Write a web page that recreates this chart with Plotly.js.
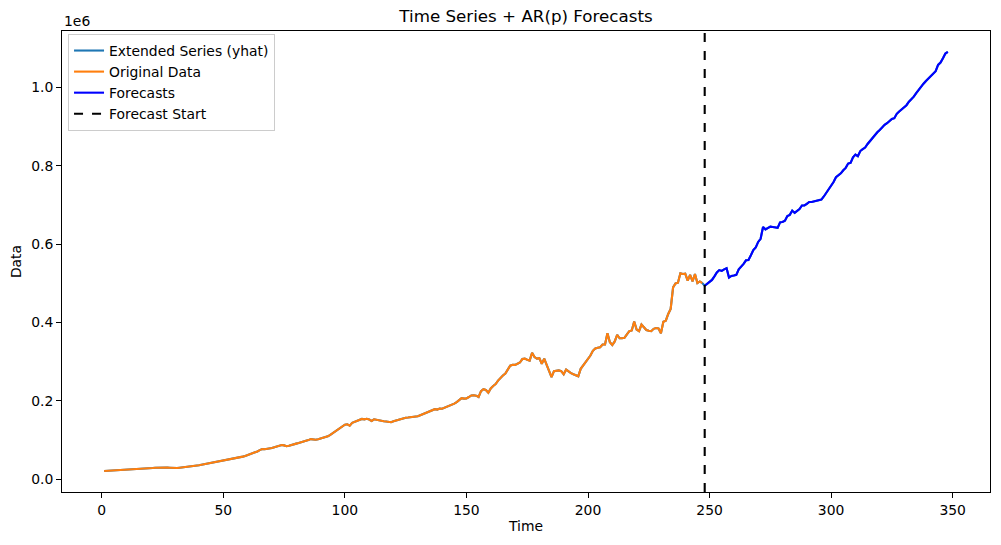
<!DOCTYPE html>
<html>
<head>
<meta charset="utf-8">
<script src="https://cdn.plot.ly/plotly-3.0.1.min.js"></script>
<style>html,body{margin:0;padding:0;background:#fff;}#chart{width:1001px;height:545px;}</style>
</head>
<body>
<div id="chart"></div>
<script>
// Original data (t = 1..247), values in thousands
const originalK = [
21,21.3,21.5,21.8,22,22.3,22.6,23,23.5,24,
24.5,24.8,25.2,25.5,26,26.3,26.7,27.2,27.6,28,
28.6,29.3,29.8,30.3,30.8,30.5,30,29.6,29,28.8,
28.7,29.5,30.2,30.5,31,31.5,32.3,33,34.5,36,
37.3,38.5,39.5,40.5,41.8,42.5,43.5,44.5,45.5,46.8,
48,49.2,50.5,52,53.2,54.8,56.2,57.8,59.5,61.5,
63.5,66,68.5,71,74.5,77,76.5,77.5,78,80,
82,84,86,87.5,86.5,84.5,85.5,88,90,91,
92.5,94,95.5,97.5,100,102.5,101.5,101,102,103.5,
105,106.5,109.5,113.5,118,122.5,127,131.5,135,139.5,
140.5,137,144,146.5,148,151,154,153,154.5,152.5,
149,153,151.5,150,149.5,148,147.5,146.5,145.5,148,
150,151,153,155,157,157.5,158,159.5,159,161,
163.5,166,168,171,174,176.5,179,178,180.5,180,
182.5,185,186.5,189.5,193,197,203,207,206,206.5,
210,214,214.5,213.5,210,225,230,228,221,232,
238,243,252,260,265,270,280,290,292.5,292,
295,298,307,308,305,303,323,312,308,309,
295,308,292,278,261,276,277,278,276,268,
280,275,271,268,265,263,282,290,298,307,
316,328,334,336,337,344,344,373,350,343,
352,369,360,360,361,370,378,380,403,382,
378,395,388,381,379,378,384,386,385,373,
402,405,422,435,490,500,502,526,524,525,
507,522,505,524,501,505,501
];
// Forecasts (t = 248..348), values in thousands
const forecastK = [
494,499,504,509,518,528,534,532,536,539,
515,519,520,522,536,542,550,559,560,572,
585,592,606,614,644,638,641,645,644,643,
642,656,657,660,672,675,686,680,684,690,
699,699,703,708,708,709,711,712,714,722,
731,742,750,759,771,775,781,789,795,806,
808,822,829,825,838,843,847,856,864,872,
880,886,892,899,905,909,915,920,922,933,
939,945,950,955,964,970,977,986,995,1003,
1010,1017,1023,1030,1036,1042,1058,1064,1075,1087,
1091
];
const startTime = 1;
const forecastStart = 248;
const yTickVals = [0, 200000, 400000, 600000, 800000, 1000000];
const yTickText = ["0.0", "0.2", "0.4", "0.6", "0.8", "1.0"];
const xTickVals = [0, 50, 100, 150, 200, 250, 300, 350];

const original = originalK.map(v => v * 1000);
const forecasts = forecastK.map(v => v * 1000);
const extended = original.concat(forecasts);
const tOrig = original.map((_, i) => startTime + i);
const tFc = forecasts.map((_, i) => forecastStart + i);
const tExt = extended.map((_, i) => startTime + i);

const tMin = Math.min(...tExt), tMax = Math.max(...tExt);
const yMin = Math.min(...extended), yMax = Math.max(...extended);
const tPad = (tMax - tMin) * 0.05, yPad = (yMax - yMin) * 0.05;

const font = "DejaVu Sans, sans-serif";
const fs = 13.9;
const lw = 2.1;
const traces = [
  {x: tExt, y: extended, mode: "lines", name: "Extended Series (yhat)", line: {color: "#1f77b4", width: lw}},
  {x: tOrig, y: original, mode: "lines", name: "Original Data", line: {color: "#ff7f0e", width: lw}},
  {x: tFc, y: forecasts, mode: "lines", name: "Forecasts", line: {color: "#0000ff", width: lw}},
  {x: [null], y: [null], mode: "lines", name: "Forecast Start", line: {color: "#000000", width: lw, dash: "dash"}}
];

const layout = {
  width: 1001, height: 545,
  margin: {l: 62, r: 11, t: 31, b: 53},
  paper_bgcolor: "#fff", plot_bgcolor: "#fff",
  font: {family: font, size: fs, color: "#000"},
  title: {text: "Time Series + AR(p) Forecasts", font: {family: font, size: 16.7, color: "#000"},
          x: 0.5, xref: "paper", y: 1 - 16/545, yref: "container", yanchor: "middle"},
  xaxis: {range: [tMin - tPad, tMax + tPad], tickvals: xTickVals, ticks: "outside", ticklen: 5, tickcolor: "#000",
          showgrid: false, zeroline: false, showline: true, linecolor: "#000", linewidth: 1, mirror: true,
          title: {text: "Time", font: {family: font, size: fs}, standoff: 4}},
  yaxis: {range: [yMin - yPad, yMax + yPad], tickvals: yTickVals, ticktext: yTickText, ticks: "outside", ticklen: 5, tickcolor: "#000",
          showgrid: false, zeroline: false, showline: true, linecolor: "#000", linewidth: 1, mirror: true,
          title: {text: "Data", font: {family: font, size: fs}, standoff: 6}},
  shapes: [{type: "line", xref: "x", yref: "paper", x0: forecastStart, x1: forecastStart, y0: 0, y1: 1,
            line: {color: "#000", width: lw, dash: "dash"}}],
  annotations: [{text: "1e6", xref: "paper", yref: "paper", x: 0, y: 1, xanchor: "left", yanchor: "bottom",
                 showarrow: false, font: {family: font, size: fs}, yshift: 0}],
  legend: {x: 0.0065, y: 0.9935, xanchor: "left", yanchor: "top", bgcolor: "rgba(255,255,255,0.8)",
           bordercolor: "#cccccc", borderwidth: 1, font: {family: font, size: fs}, itemwidth: 30, tracegroupgap: 0},
  showlegend: true
};
Plotly.newPlot("chart", traces, layout, {displayModeBar: false, staticPlot: true});
</script>
</body>
</html>
